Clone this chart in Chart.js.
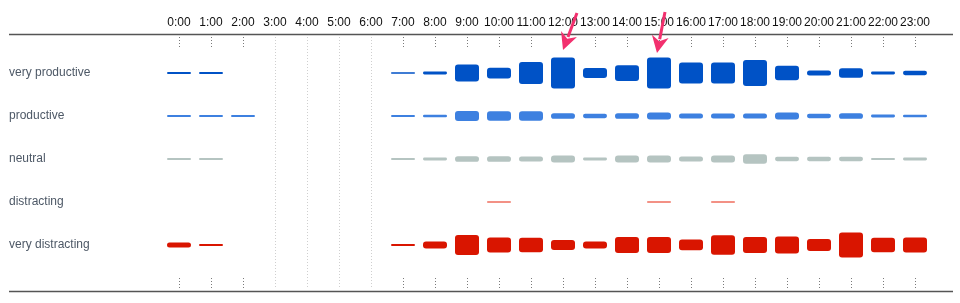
<!DOCTYPE html>
<html>
<head>
<meta charset="utf-8">
<script src="https://cdn.jsdelivr.net/npm/chart.js@4/dist/chart.umd.min.js"></script>
<style>
  html, body { margin: 0; padding: 0; background: #fff; }
  #wrap { width: 960px; height: 303px; }
</style>
</head>
<body>
<div id="wrap"><canvas id="grafic"></canvas></div>
<script>
const ore = ['0:00', '1:00', '2:00', '3:00', '4:00', '5:00', '6:00', '7:00', '8:00', '9:00', '10:00', '11:00',
  '12:00', '13:00', '14:00', '15:00', '16:00', '17:00', '18:00', '19:00', '20:00', '21:00', '22:00', '23:00'];
const categorii = ['very productive', 'productive', 'neutral', 'distracting', 'very distracting'];

// minute pe ora, pentru fiecare categorie
const veryProductive = [3, 3, 0, 0, 0, 0, 0, 2, 4, 24, 15, 31, 43, 14, 22, 43, 29, 29, 36, 20, 7, 13, 4, 6];
const productive = [3, 3, 3, 0, 0, 0, 0, 3, 3.5, 14, 13, 13, 8, 6, 8, 10, 7, 7, 7, 10, 6, 8, 4, 3.5];
const neutral = [3, 3, 0, 0, 0, 0, 0, 3, 4, 8, 8, 7, 10, 4, 10, 10, 7, 10, 13, 6, 6, 6, 3, 4];
const distracting = [0, 0, 0, 0, 0, 0, 0, 0, 0, 0, 2, 0, 0, 0, 0, 2, 0, 2, 0, 0, 0, 0, 0, 0];
const veryDistracting = [7, 3, 0, 0, 0, 0, 0, 3, 10, 28, 21, 20, 14, 10, 22, 22, 15, 27, 22, 24, 17, 35, 20, 21];

const serii = [veryProductive, productive, neutral, distracting, veryDistracting];
const culori = ['#0052c6', '#3d80e0', '#b5c4c1', '#ef6e5e', '#d91500'];

// sageti de evidentiere (ora + decalaj in pixeli)
const sageti = [
  { ora: 12, tipDx: 0, tipY: 50, tailDx: 14, tailY: 13 },
  { ora: 15, tipDx: -2, tipY: 53, tailDx: 6, tailY: 12 }
];

// o ora e goala daca nu are nimic in nicio categorie
const oreGoale = ore.map((_, i) => serii.every(s => !s[i]));

const datasets = serii.map((valori, r) => ({
  label: categorii[r],
  data: valori.map(v => v ? [r - v / 120, r + v / 120] : null),
  backgroundColor: culori[r],
  borderWidth: 0,
  borderRadius: 3,
  borderSkipped: false
}));

const gridPlugin = {
  id: 'gridPlugin',
  beforeDatasetsDraw: (chart) => {
    const ctx = chart.ctx;
    const x = chart.scales.x;
    ctx.save();
    ctx.lineWidth = 1;
    ctx.setLineDash([1, 2]);
    ore.forEach((_, i) => {
      const px = Math.round(x.getPixelForValue(i)) + 0.5;
      if (oreGoale[i]) {
        ctx.strokeStyle = '#cfcfcf';
        ctx.beginPath();
        ctx.moveTo(px, 37);
        ctx.lineTo(px, 289);
        ctx.stroke();
      } else {
        ctx.strokeStyle = '#7a7a7a';
        ctx.beginPath();
        ctx.moveTo(px, 37);
        ctx.lineTo(px, 48);
        ctx.moveTo(px, 278);
        ctx.lineTo(px, 289);
        ctx.stroke();
      }
    });
    ctx.setLineDash([]);
    ctx.strokeStyle = '#555';
    ctx.lineWidth = 1.3;
    ctx.beginPath();
    ctx.moveTo(9, 34.5);
    ctx.lineTo(953, 34.5);
    ctx.moveTo(9, 291.5);
    ctx.lineTo(953, 291.5);
    ctx.stroke();
    ctx.restore();
  },
  afterDraw: (chart) => {
    const ctx = chart.ctx;
    const x = chart.scales.x;
    ctx.save();
    ctx.strokeStyle = '#f2306e';
    ctx.fillStyle = '#f2306e';
    ctx.lineWidth = 3;
    sageti.forEach(s => {
      const cx = x.getPixelForValue(s.ora);
      const tx = cx + s.tipDx, ty = s.tipY;
      const ax = cx + s.tailDx, ay = s.tailY;
      const len = Math.hypot(tx - ax, ty - ay);
      const ux = (tx - ax) / len, uy = (ty - ay) / len;
      const head = 17, half = 8.5;
      const bx = tx - ux * head, by = ty - uy * head;
      ctx.beginPath();
      ctx.moveTo(ax, ay);
      ctx.lineTo(bx + ux * 3, by + uy * 3);
      ctx.stroke();
      ctx.beginPath();
      ctx.moveTo(tx, ty);
      ctx.lineTo(bx - uy * half, by + ux * half);
      ctx.lineTo(bx + ux * 5, by + uy * 5);
      ctx.lineTo(bx + uy * half, by - ux * half);
      ctx.closePath();
      ctx.fill();
    });
    ctx.restore();
  }
};

const ctx = document.getElementById('grafic').getContext('2d');
new Chart(ctx, {
  type: 'bar',
  data: { labels: ore, datasets: datasets },
  options: {
    responsive: true,
    maintainAspectRatio: false,
    animation: false,
    layout: { padding: { left: 9, right: 29, top: 0, bottom: 12 } },
    datasets: {
      bar: { grouped: false, categoryPercentage: 1, barPercentage: 0.75 }
    },
    plugins: {
      legend: { display: false },
      tooltip: { enabled: false }
    },
    scales: {
      x: {
        position: 'top',
        grid: { display: false, drawTicks: false },
        border: { display: false },
        ticks: {
          autoSkip: false,
          maxRotation: 0,
          padding: 5,
          color: '#111',
          font: { family: '"Liberation Sans", Arial, sans-serif', size: 12 }
        },
        afterFit: (scale) => { scale.height = 35; }
      },
      y: {
        reverse: true,
        min: -0.884,
        max: 5.07,
        grid: { display: false, drawTicks: false },
        border: { display: false },
        afterBuildTicks: (scale) => {
          scale.ticks = categorii.map((_, i) => ({ value: i }));
        },
        ticks: {
          crossAlign: 'far',
          padding: 0,
          color: '#4d5866',
          font: { family: '"Liberation Sans", Arial, sans-serif', size: 12 },
          callback: (v) => categorii[v]
        },
        afterFit: (scale) => { scale.width = 154; }
      }
    }
  },
  plugins: [gridPlugin]
});
</script>
</body>
</html>
